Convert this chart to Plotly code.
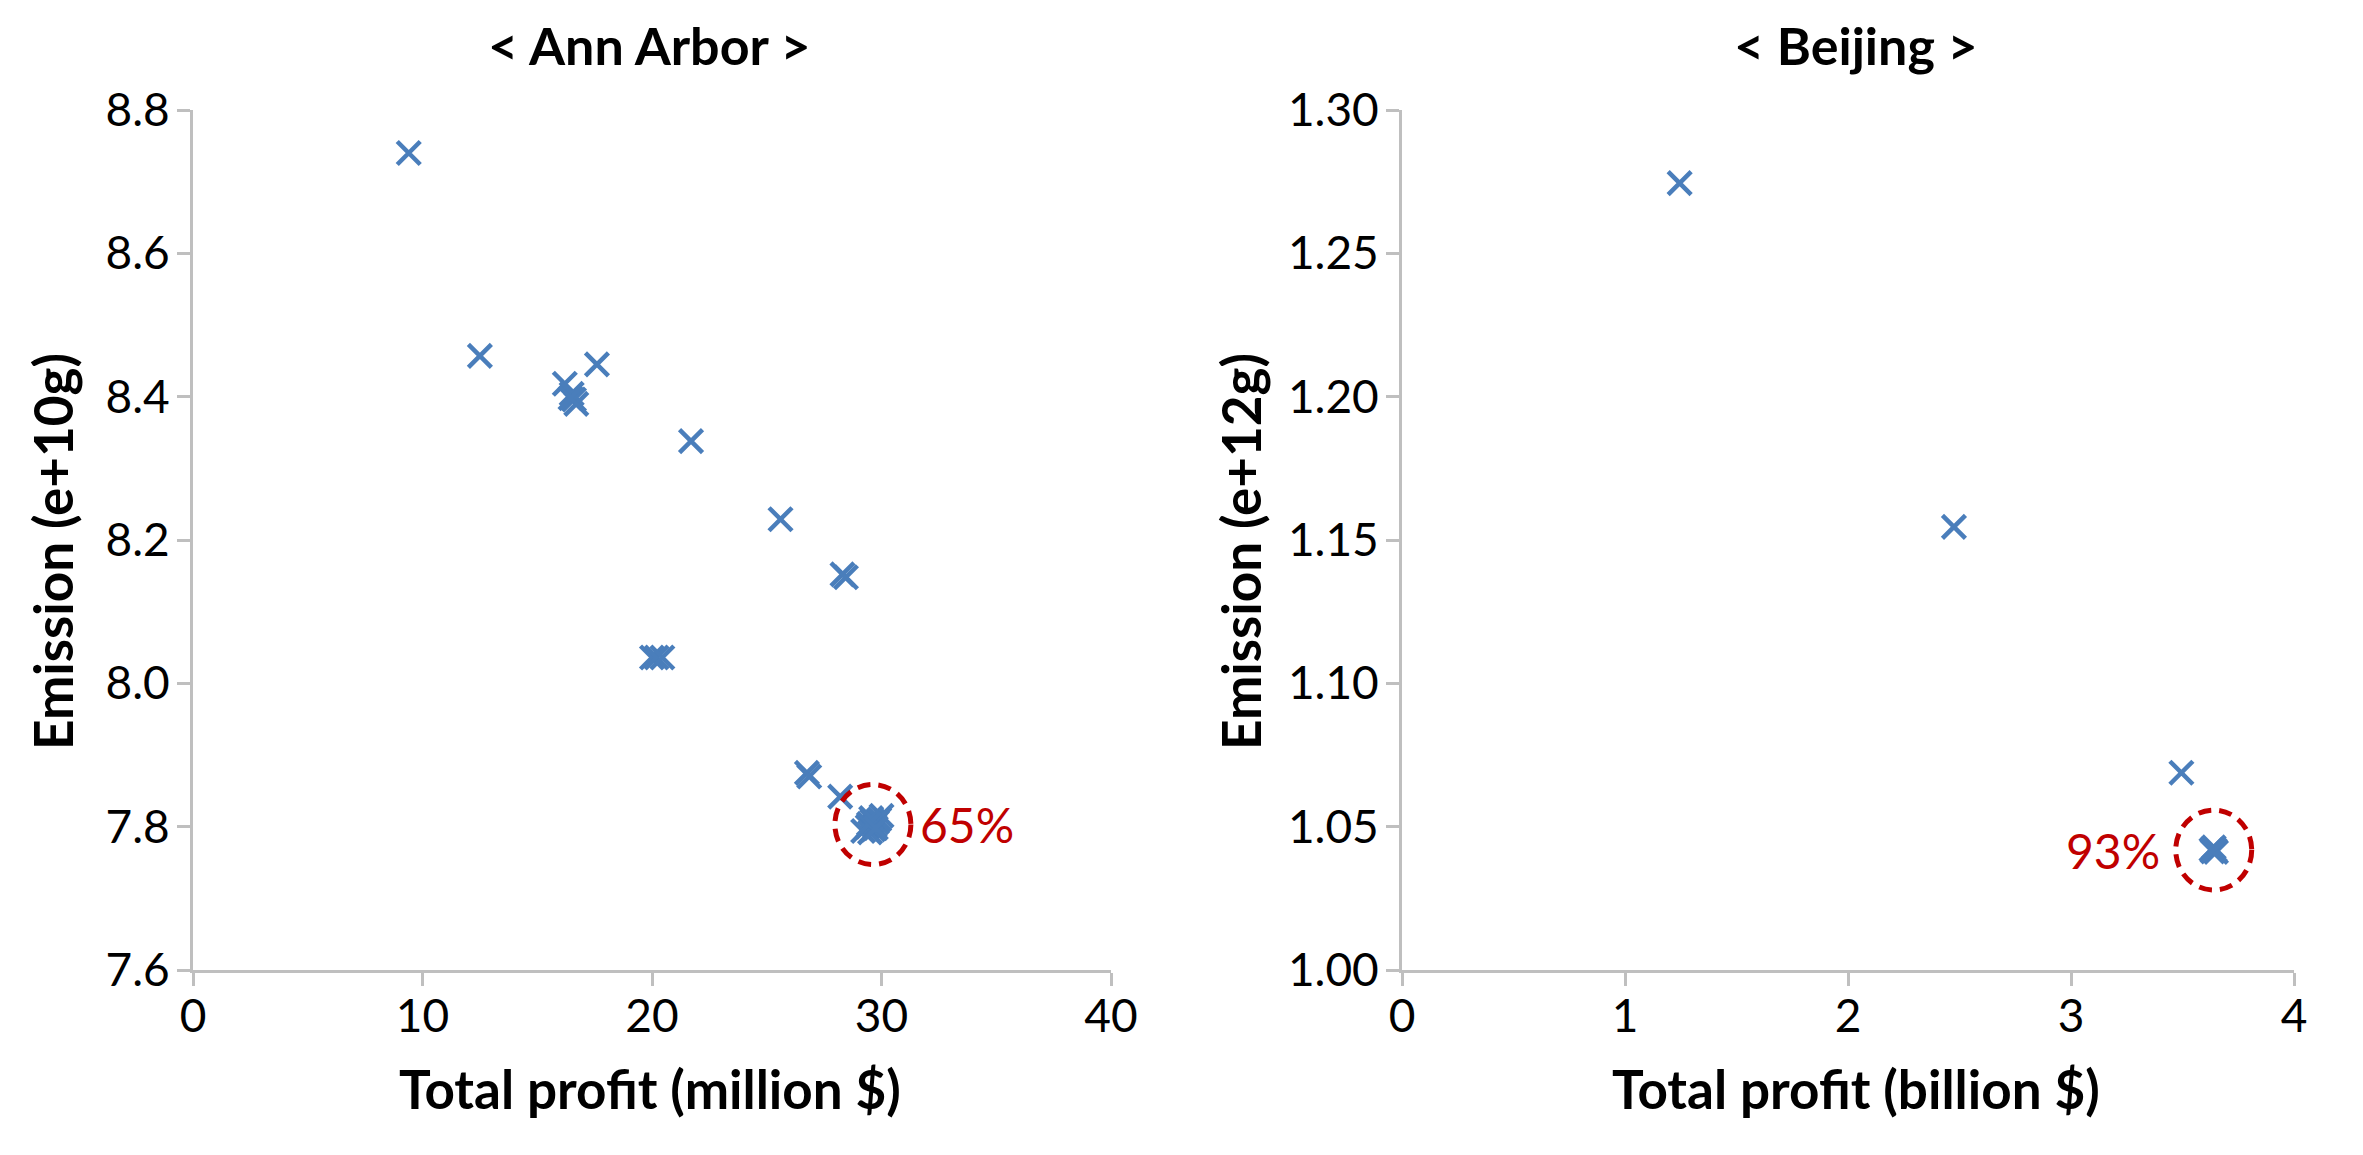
import plotly.graph_objects as go

# ---------------- data ----------------
ann_x = [9.4, 12.5, 16.2, 17.6, 16.5, 16.7, 16.6, 16.45, 21.7, 25.6, 28.3, 28.45,
         20.0, 20.2, 20.45, 26.75, 26.85, 28.2]
ann_y = [8.740, 8.457, 8.418, 8.445, 8.404, 8.390, 8.396, 8.398, 8.338, 8.229, 8.152, 8.148,
         8.036, 8.036, 8.036, 7.875, 7.870, 7.842]
ann_opt_x = [29.2, 29.4, 29.5, 29.6, 29.7, 29.8, 29.9, 30.0, 29.55, 29.65, 29.45, 29.75]
ann_opt_y = [7.794, 7.800, 7.792, 7.808, 7.801, 7.806, 7.810, 7.815, 7.812, 7.796, 7.804, 7.798]
ann_opt_label = "65%"

bj_x = [1.245, 2.475, 3.495]
bj_y = [1.2745, 1.1546, 1.0688]
bj_opt_x = [3.63, 3.65, 3.64, 3.645, 3.635]
bj_opt_y = [1.0420, 1.0412, 1.0428, 1.0418, 1.0414]
bj_opt_label = "93%"

ann_xticks = [0, 10, 20, 30, 40]
ann_yticks = [7.6, 7.8, 8.0, 8.2, 8.4, 8.6, 8.8]
bj_xticks = [0, 1, 2, 3, 4]
bj_yticks = [1.00, 1.05, 1.10, 1.15, 1.20, 1.25, 1.30]

titles = ["&lt; Ann Arbor &gt;", "&lt; Beijing &gt;"]
xtitles = ["Total profit (million $)", "Total profit (billion $)"]
ytitles = ["Emission (e+10g)", "Emission (e+12g)"]

# ---------------- style ----------------
VW, VH = 2363, 1155          # browser window
OFF = 8                      # default body margin of the html page
FW, FH = VW - 2 * OFF, VH - 2 * OFF - 4
FONT = "Lato"
BLUE = "#4A7EBB"
RED = "#C00000"
AXC = "#BFBFBF"


def px(x):   # window pixel -> paper fraction
    return (x - OFF) / FW


def py(y):
    return 1 - (y - OFF) / FH


fig = go.Figure()

marker = dict(symbol="x-thin", size=23, color=BLUE, line=dict(width=4.5, color=BLUE))

for xs, ys, xa, ya in [(ann_x + ann_opt_x, ann_y + ann_opt_y, "x", "y"),
                       (bj_x + bj_opt_x, bj_y + bj_opt_y, "x2", "y2")]:
    fig.add_trace(go.Scatter(x=xs, y=ys, mode="markers", marker=marker,
                             xaxis=xa, yaxis=ya, showlegend=False, hoverinfo="x+y"))


def axis(domain, rng, ticks, fmt, anchor, standoff):
    return dict(domain=domain, range=rng, tickvals=ticks, tickformat=fmt,
                showline=True, linecolor=AXC, linewidth=3, ticks="outside",
                ticklen=13, tickwidth=3, tickcolor=AXC, showgrid=False,
                zeroline=False, anchor=anchor, automargin=False,
                ticklabelstandoff=standoff,
                tickfont=dict(family=FONT, size=46, color="black"))


ydom = [py(970), py(110)]
fig.update_layout(
    template="none",
    width=FW, height=FH, margin=dict(l=0, r=0, t=0, b=0),
    paper_bgcolor="white", plot_bgcolor="white",
    xaxis=axis([px(193), px(1111)], [0, 40], ann_xticks, "d", "y", -9),
    yaxis=axis(ydom, [7.6, 8.8], ann_yticks, ".1f", "x", -2),
    xaxis2=axis([px(1402), px(2294)], [0, 4], bj_xticks, "d", "y2", -9),
    yaxis2=axis(ydom, [1.0, 1.3], bj_yticks, ".2f", "x2", -2),
)


def mean(v):
    return sum(v) / len(v)


for ox, oy, xr, yr, label, side in [(ann_opt_x, ann_opt_y, "x", "y", ann_opt_label, "right"),
                                     (bj_opt_x, bj_opt_y, "x2", "y2", bj_opt_label, "left")]:
    cx, cy = mean(ox), mean(oy)
    fig.add_shape(type="circle", xref=xr, yref=yr, xsizemode="pixel", ysizemode="pixel",
                  xanchor=cx, yanchor=cy, x0=-38, x1=38, y0=-40, y1=40,
                  line=dict(color=RED, width=5, dash="13px,8px"))
    fig.add_annotation(x=cx, y=cy, xref=xr, yref=yr, text=label, showarrow=False,
                       xanchor="left" if side == "right" else "right",
                       xshift=45 if side == "right" else -52, yanchor="middle",
                       font=dict(family=FONT, size=48, color=RED))

# titles and axis titles (positions in window pixels)
for t, cx in zip(titles, [650, 1856]):
    fig.add_annotation(x=px(cx), y=py(45), xref="paper", yref="paper", text="<b>%s</b>" % t,
                       showarrow=False, xanchor="center", yanchor="middle",
                       font=dict(family=FONT, size=52, color="black"))
for t, cx in zip(xtitles, [650, 1856]):
    fig.add_annotation(x=px(cx), y=py(1088), xref="paper", yref="paper", text="<b>%s</b>" % t,
                       showarrow=False, xanchor="center", yanchor="middle",
                       font=dict(family=FONT, size=53, color="black"))
for t, cx in zip(ytitles, [52, 1240]):
    fig.add_annotation(x=px(cx), y=py(552), xref="paper", yref="paper", text="<b>%s</b>" % t,
                       showarrow=False, xanchor="center", yanchor="middle", textangle=-90,
                       font=dict(family=FONT, size=53, color="black"))

fig.write_html("out.html", config={"displayModeBar": False})
